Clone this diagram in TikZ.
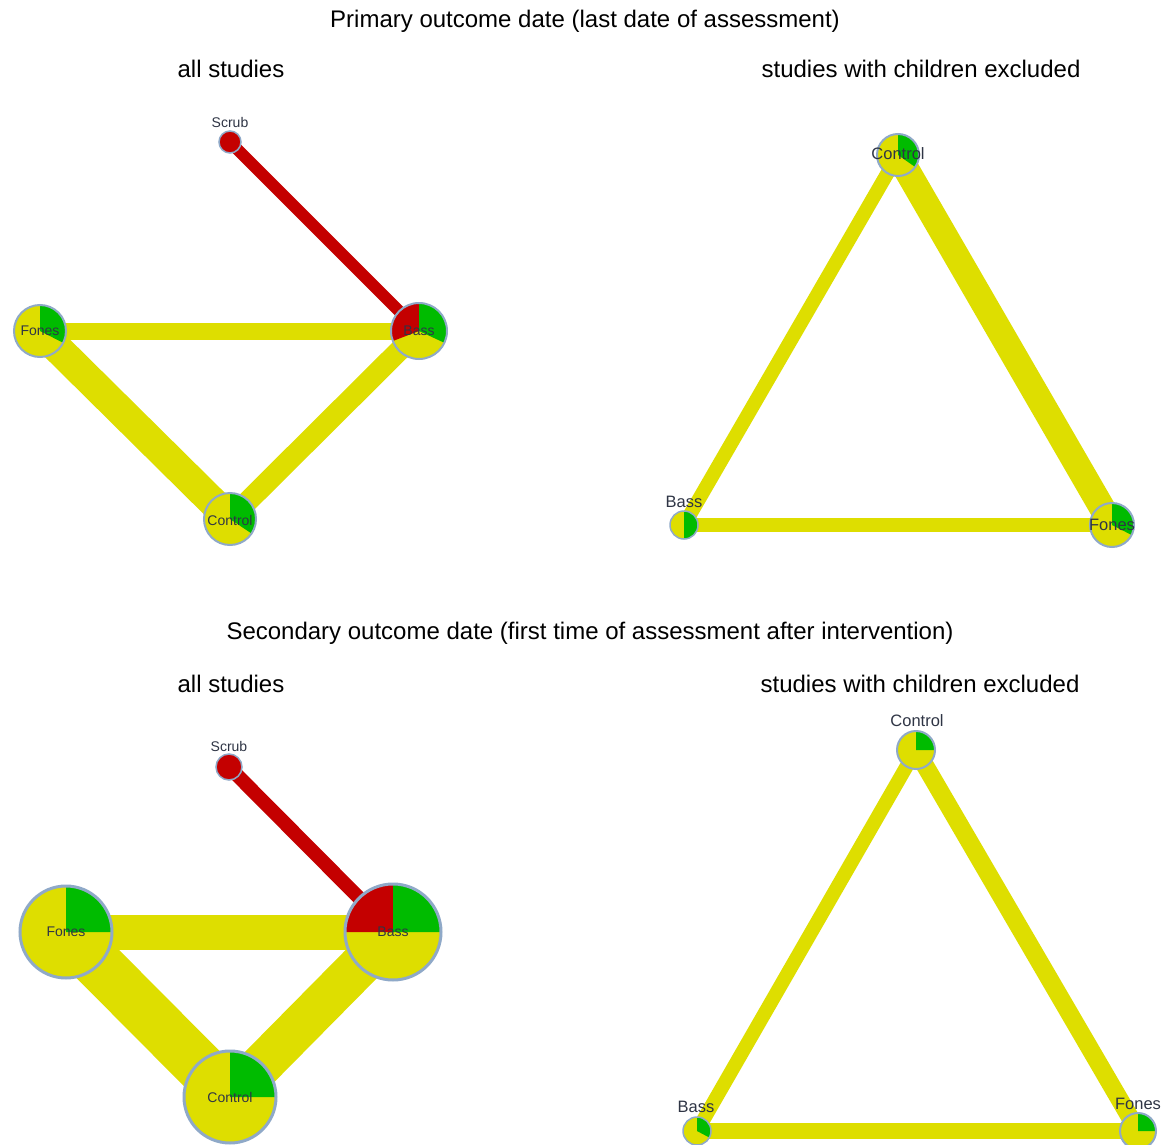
\documentclass[tikz,border=0pt]{standalone}
\usepackage{fontspec}
\setmainfont{Liberation Sans}
\definecolor{pyel}{HTML}{DEDE00}
\definecolor{pgrn}{HTML}{00BB00}
\definecolor{pred}{HTML}{C40000}
\definecolor{pbord}{HTML}{8FA9C8}
\definecolor{plab}{HTML}{2F3545}
\newcommand\pieSeg[5]{\fill[#5] (#1) -- ++(#2:#4pt) arc[start angle=#2,end angle=#3,radius=#4pt] -- cycle;}
\newcommand\pieRim[3]{\draw[draw=pbord,line width=#3] (#1) circle[radius=#2pt];}
\begin{document}
\begin{tikzpicture}[x=1pt,y=1pt,
  title/.style={font=\fontsize{24}{28}\selectfont, text=black, inner sep=0pt},
  lab/.style={font=\fontsize{14}{16}\selectfont, text=plab, inner sep=0pt},
  labbig/.style={font=\fontsize{16.5}{18}\selectfont, text=plab, inner sep=0pt},
  yedge/.style={draw=pyel, line width=#1},
  redge/.style={draw=pred, line width=#1}]
\useasboundingbox[fill=white] (0,0) rectangle (1173,-1145);

% titles
\node[title] (t1) at (585,-21) {Primary outcome date (last date of assessment)};
\node[title] (t1a) at (231,-69) {all studies};
\node[title] (t1b) at (921,-69) {studies with children excluded};
\node[title] (t2) at (590,-633) {Secondary outcome date (first time of assessment after intervention)};
\node[title] (t2a) at (231,-684) {all studies};
\node[title] (t2b) at (920,-684) {studies with children excluded};

% node centres
\coordinate (A-scrub) at (230,-142);
\coordinate (A-fones) at (40,-331);
\coordinate (A-bass) at (419,-331);
\coordinate (A-control) at (230,-519);
\coordinate (B-control) at (898,-155);
\coordinate (B-bass) at (684,-525);
\coordinate (B-fones) at (1112,-525);
\coordinate (C-scrub) at (229,-767);
\coordinate (C-fones) at (66,-932);
\coordinate (C-bass) at (393,-932);
\coordinate (C-control) at (230,-1097);
\coordinate (D-control) at (916,-750);
\coordinate (D-bass) at (697,-1131);
\coordinate (D-fones) at (1138,-1131);

% edges
\draw[redge=12pt] (A-scrub) -- (A-bass);
\draw[yedge=17pt] (A-fones) -- (A-bass);
\draw[yedge=30pt] (A-fones) -- (A-control);
\draw[yedge=21pt] (A-bass) -- (A-control);

\draw[yedge=14pt] (B-control) -- (B-bass);
\draw[yedge=26pt] (B-control) -- (B-fones);
\draw[yedge=14pt] (B-bass) -- (B-fones);

\draw[redge=14pt] (C-scrub) -- (C-bass);
\draw[yedge=35pt] (C-fones) -- (C-bass);
\draw[yedge=50pt] (C-fones) -- (C-control);
\draw[yedge=42pt] (C-bass) -- (C-control);

\draw[yedge=14pt] (D-control) -- (D-bass);
\draw[yedge=18pt] (D-control) -- (D-fones);
\draw[yedge=16pt] (D-bass) -- (D-fones);

% pies, panel A
\fill[pred] (A-scrub) circle[radius=11pt]; \pieRim{A-scrub}{11}{1.5pt}
\fill[pyel] (A-fones) circle[radius=26pt]; \pieSeg{A-fones}{90}{-27}{26}{pgrn} \pieRim{A-fones}{26}{2pt}
\fill[pyel] (A-bass) circle[radius=28pt]; \pieSeg{A-bass}{90}{201}{28}{pred} \pieSeg{A-bass}{90}{-25}{28}{pgrn} \pieRim{A-bass}{28}{2pt}
\fill[pyel] (A-control) circle[radius=26pt]; \pieSeg{A-control}{90}{-34}{26}{pgrn} \pieRim{A-control}{26}{2pt}
% panel B
\fill[pyel] (B-control) circle[radius=21pt]; \pieSeg{B-control}{90}{-35}{21}{pgrn} \pieRim{B-control}{21}{2pt}
\fill[pyel] (B-bass) circle[radius=14pt]; \pieSeg{B-bass}{90}{-90}{14}{pgrn} \pieRim{B-bass}{14}{1.5pt}
\fill[pyel] (B-fones) circle[radius=22pt]; \pieSeg{B-fones}{90}{-27}{22}{pgrn} \pieRim{B-fones}{22}{2pt}
% panel C
\fill[pred] (C-scrub) circle[radius=13pt]; \pieRim{C-scrub}{13}{1.5pt}
\fill[pyel] (C-fones) circle[radius=46pt]; \pieSeg{C-fones}{90}{0}{46}{pgrn} \pieRim{C-fones}{46}{3pt}
\fill[pyel] (C-bass) circle[radius=48pt]; \pieSeg{C-bass}{90}{180}{48}{pred} \pieSeg{C-bass}{90}{0}{48}{pgrn} \pieRim{C-bass}{48}{3pt}
\fill[pyel] (C-control) circle[radius=46pt]; \pieSeg{C-control}{90}{0}{46}{pgrn} \pieRim{C-control}{46}{3pt}
% panel D
\fill[pyel] (D-control) circle[radius=19pt]; \pieSeg{D-control}{90}{0}{19}{pgrn} \pieRim{D-control}{19}{2pt}
\fill[pyel] (D-bass) circle[radius=14pt]; \pieSeg{D-bass}{90}{-28}{14}{pgrn} \pieRim{D-bass}{14}{1.5pt}
\fill[pyel] (D-fones) circle[radius=18pt]; \pieSeg{D-fones}{90}{0}{18}{pgrn} \pieRim{D-fones}{18}{2pt}

% labels
\node[lab] (lA-scrub) at (230,-122) {Scrub};
\node[lab] (lA-fones) at (40,-331) {Fones};
\node[lab] (lA-bass) at (419,-331) {Bass};
\node[lab] (lA-control) at (230,-520) {Control};
\node[labbig] (lB-control) at (898,-154) {Control};
\node[labbig] (lB-bass) at (684,-502) {Bass};
\node[labbig] (lB-fones) at (1112,-525) {Fones};
\node[lab] (lC-scrub) at (229,-746) {Scrub};
\node[lab] (lC-fones) at (66,-932) {Fones};
\node[lab] (lC-bass) at (393,-932) {Bass};
\node[lab] (lC-control) at (230,-1097) {Control};
\node[labbig] (lD-control) at (917,-721) {Control};
\node[labbig] (lD-bass) at (696,-1107) {Bass};
\node[labbig] (lD-fones) at (1138,-1104) {Fones};
\end{tikzpicture}
\end{document}
